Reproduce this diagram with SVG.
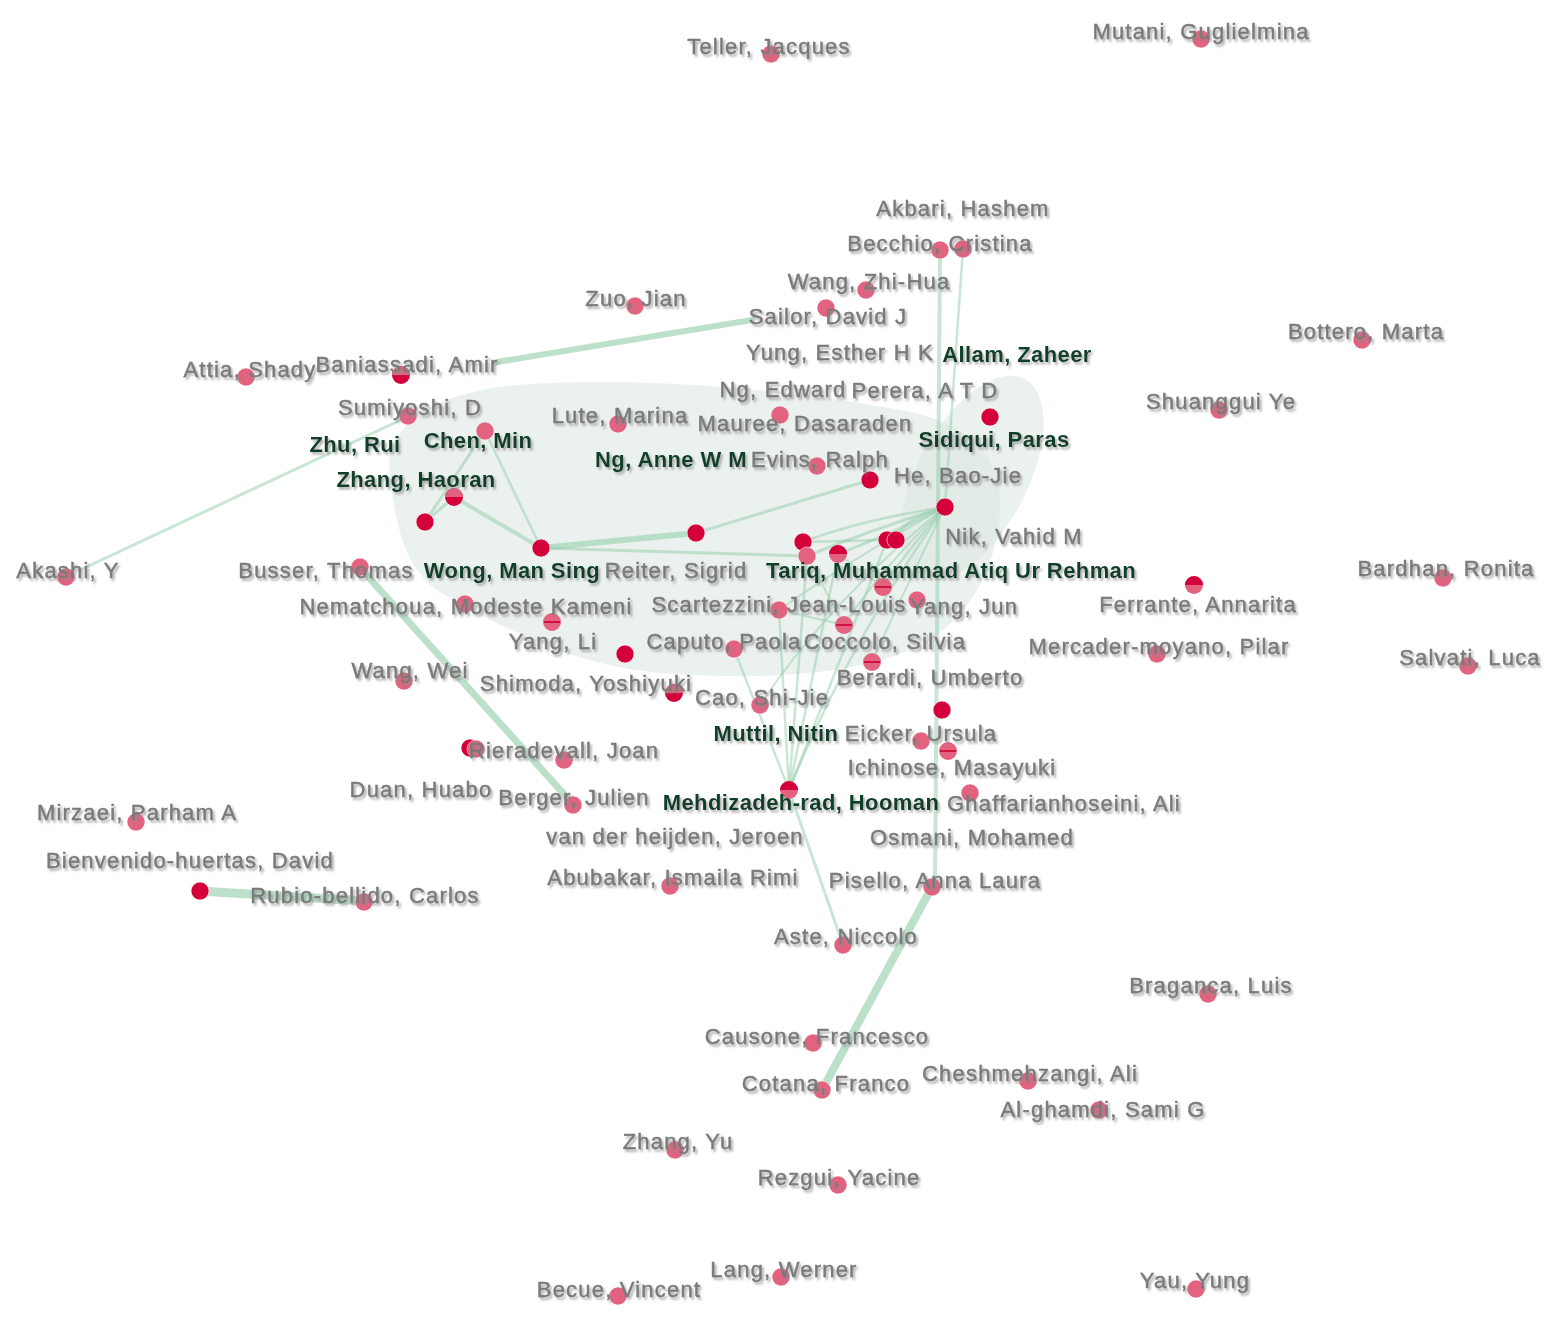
<svg xmlns="http://www.w3.org/2000/svg" xmlns:xlink="http://www.w3.org/1999/xlink" width="1558" height="1326" viewBox="0 0 1558 1326">
<style>
.lb{font-family:"Liberation Sans",Arial,sans-serif;font-size:22px;letter-spacing:1.2px;fill:#7a7a7a;stroke:#7a7a7a;stroke-width:0.45px;text-anchor:middle;filter:url(#sh)}
.lg{fill:#0d3f28;stroke:none;font-weight:bold;letter-spacing:0.4px}
.e{fill:none;stroke:#94cdaa;stroke-opacity:0.5;stroke-linecap:round}
.t{stroke:#b0dbc1;stroke-opacity:0.85}
.hull{fill:#dde8e2;fill-opacity:0.6}
</style>
<defs>
<filter id="sh" x="-10%" y="-30%" width="130%" height="180%">
<feDropShadow dx="2" dy="2.5" stdDeviation="1.2" flood-color="#8a8a8a" flood-opacity="0.7"/>
</filter>
<g id="np"><circle r="9" fill="#e2627f" stroke="#fff" stroke-opacity="0.5" stroke-width="1"/></g>
<g id="nr"><circle r="9" fill="#d4003a" stroke="#fff" stroke-opacity="0.6" stroke-width="1"/></g>
<g id="npr"><circle r="9" fill="#d4003a"/><path d="M-9,0 A9,9 0 0 1 9,0 Z" fill="#e2627f"/></g>
<g id="nrp"><circle r="9" fill="#e2627f"/><path d="M-9,0 A9,9 0 0 1 9,0 Z" fill="#d4003a"/></g>
<g id="npl"><circle r="9" fill="#e2627f"/><line x1="-8" y1="0" x2="8" y2="0" stroke="#c8002f" stroke-width="1.6"/></g>
</defs>
<rect width="1558" height="1326" fill="#ffffff"/>

<g id="hulls">
<path class="hull" d="M390,480 C382,420 440,390 530,384 C640,377 780,388 900,410 C960,420 1000,450 1000,500 C1000,560 975,610 930,640 C860,680 740,680 650,672 C560,662 490,620 440,592 C402,567 396,520 390,480 Z"/>
<ellipse class="hull" cx="972" cy="478" rx="55" ry="112" transform="rotate(28 972 478)"/>
</g>

<g id="connectors">
<line class="e t" x1="497" y1="362" x2="752" y2="320" stroke-width="6"/>
<line class="e" x1="80" y1="570" x2="405" y2="418" stroke-width="3"/>
<line class="e t" x1="362" y1="570" x2="571" y2="802" stroke-width="7"/>
<line class="e t" x1="200" y1="891" x2="364" y2="901" stroke-width="9"/>
<line class="e t" x1="932" y1="887" x2="822" y2="1090" stroke-width="8"/>
<line class="e" x1="789" y1="790" x2="843" y2="945" stroke-width="3"/>
<line class="e" x1="940" y1="250" x2="935" y2="885" stroke-width="4"/>
<line class="e" x1="963" y1="249" x2="945" y2="507" stroke-width="2.5"/>
<line class="e" x1="696" y1="533" x2="870" y2="480" stroke-width="3"/>
<line class="e t" x1="541" y1="548" x2="696" y2="533" stroke-width="6"/>
<line class="e" x1="541" y1="548" x2="807" y2="556" stroke-width="3"/>
<line class="e" x1="541" y1="548" x2="454" y2="497" stroke-width="4"/>
<line class="e" x1="541" y1="548" x2="485" y2="431" stroke-width="2.5"/>
<line class="e" x1="485" y1="431" x2="425" y2="522" stroke-width="3"/>
<line class="e" x1="454" y1="497" x2="425" y2="522" stroke-width="3"/>
<path class="e" d="M945,507 Q900,520 896,540" stroke-width="3"/>
<path class="e" d="M945,507 Q900,530 838,554" stroke-width="3"/>
<path class="e" d="M945,507 Q870,530 807,556" stroke-width="3"/>
<path class="e" d="M945,507 Q860,520 803,542" stroke-width="2.5"/>
<path class="e" d="M945,507 Q900,560 883,587" stroke-width="2.5"/>
<path class="e" d="M945,507 Q850,560 779,610" stroke-width="2"/>
<path class="e" d="M945,507 Q880,570 844,625" stroke-width="2"/>
<path class="e" d="M945,507 Q900,600 872,662" stroke-width="2"/>
<path class="e" d="M945,507 Q850,640 789,790" stroke-width="2.5"/>
<path class="e" d="M945,507 Q830,600 760,705" stroke-width="2"/>
<line class="e" x1="789" y1="790" x2="734" y2="649" stroke-width="2.5"/>
<line class="e" x1="789" y1="790" x2="779" y2="610" stroke-width="2.5"/>
<line class="e" x1="789" y1="790" x2="807" y2="556" stroke-width="2.5"/>
<line class="e" x1="789" y1="790" x2="838" y2="554" stroke-width="2.5"/>
<line class="e" x1="789" y1="790" x2="887" y2="540" stroke-width="2.5"/>
<line class="e" x1="803" y1="542" x2="887" y2="540" stroke-width="2.5"/>
<line class="e" x1="807" y1="556" x2="844" y2="625" stroke-width="2"/>
<line class="e" x1="779" y1="610" x2="844" y2="625" stroke-width="2"/>
<line class="e" x1="838" y1="554" x2="883" y2="587" stroke-width="2"/>
</g>

<g id="nodes">
<g id="n-teller"><use xlink:href="#np" x="771" y="54"/></g>
<g id="n-mutani"><use xlink:href="#np" x="1201" y="39"/></g>
<g id="n-becchio"><use xlink:href="#np" x="940" y="250"/></g>
<g id="n-akbari"><use xlink:href="#np" x="963" y="249"/></g>
<g id="n-wangzh"><use xlink:href="#np" x="866" y="290"/></g>
<g id="n-sailor"><use xlink:href="#np" x="826" y="308"/></g>
<g id="n-zuo"><use xlink:href="#np" x="635" y="306"/></g>
<g id="n-baniassadi"><use xlink:href="#npr" x="401" y="375"/></g>
<g id="n-attia"><use xlink:href="#np" x="246" y="377"/></g>
<g id="n-sumiyoshi"><use xlink:href="#np" x="408" y="416"/></g>
<g id="n-lute"><use xlink:href="#np" x="618" y="424"/></g>
<g id="n-mauree"><use xlink:href="#np" x="780" y="415"/></g>
<g id="n-sidiqui"><use xlink:href="#nr" x="990" y="417"/></g>
<g id="n-chen"><use xlink:href="#np" x="485" y="431"/></g>
<g id="n-zhang"><use xlink:href="#npr" x="454" y="497"/></g>
<g id="n-zhu"><use xlink:href="#nr" x="425" y="522"/></g>
<g id="n-evins"><use xlink:href="#np" x="817" y="466"/></g>
<g id="n-ngedward"><use xlink:href="#nr" x="870" y="480"/></g>
<g id="n-he"><use xlink:href="#nr" x="945" y="507"/></g>
<g id="n-nik1"><use xlink:href="#nr" x="887" y="540"/></g>
<g id="n-nik2"><use xlink:href="#nr" x="896" y="540"/></g>
<g id="n-tariq1"><use xlink:href="#nr" x="803" y="542"/></g>
<g id="n-tariq2"><use xlink:href="#np" x="807" y="556"/></g>
<g id="n-tariq3"><use xlink:href="#nrp" x="838" y="554"/></g>
<g id="n-nganne"><use xlink:href="#nr" x="696" y="533"/></g>
<g id="n-wong"><use xlink:href="#nr" x="541" y="548"/></g>
<g id="n-busser"><use xlink:href="#np" x="360" y="567"/></g>
<g id="n-akashi"><use xlink:href="#np" x="66" y="577"/></g>
<g id="n-nematchoua"><use xlink:href="#np" x="465" y="604"/></g>
<g id="n-scartezzini"><use xlink:href="#np" x="779" y="610"/></g>
<g id="n-yangjun"><use xlink:href="#np" x="917" y="600"/></g>
<g id="n-x1"><use xlink:href="#npl" x="883" y="587"/></g>
<g id="n-yangli"><use xlink:href="#npl" x="552" y="622"/></g>
<g id="n-caputo"><use xlink:href="#np" x="734" y="649"/></g>
<g id="n-coccolo"><use xlink:href="#npl" x="844" y="625"/></g>
<g id="n-reiter"><use xlink:href="#nr" x="625" y="654"/></g>
<g id="n-berardi"><use xlink:href="#npl" x="872" y="662"/></g>
<g id="n-wangwei"><use xlink:href="#np" x="404" y="681"/></g>
<g id="n-shimoda"><use xlink:href="#npr" x="674" y="693"/></g>
<g id="n-cao"><use xlink:href="#np" x="760" y="705"/></g>
<g id="n-muttil"><use xlink:href="#nr" x="942" y="710"/></g>
<g id="n-eicker"><use xlink:href="#np" x="921" y="741"/></g>
<g id="n-ichinose"><use xlink:href="#npl" x="948" y="751"/></g>
<g id="n-rieradevall"><use xlink:href="#np" x="564" y="760"/></g>
<g id="n-duan"><use xlink:href="#nr" x="470" y="748"/><use xlink:href="#np" x="476" y="749"/></g>
<g id="n-berger"><use xlink:href="#np" x="573" y="805"/></g>
<g id="n-mehdizadeh"><use xlink:href="#nrp" x="789" y="790"/></g>
<g id="n-ghaffarianhoseini"><use xlink:href="#np" x="970" y="793"/></g>
<g id="n-abubakar"><use xlink:href="#np" x="670" y="886"/></g>
<g id="n-pisello"><use xlink:href="#np" x="932" y="887"/></g>
<g id="n-aste"><use xlink:href="#np" x="843" y="945"/></g>
<g id="n-mirzaei"><use xlink:href="#np" x="136" y="822"/></g>
<g id="n-bienvenido"><use xlink:href="#nr" x="200" y="891"/></g>
<g id="n-rubio"><use xlink:href="#np" x="364" y="902"/></g>
<g id="n-braganca"><use xlink:href="#np" x="1208" y="994"/></g>
<g id="n-causone"><use xlink:href="#np" x="813" y="1043"/></g>
<g id="n-cotana"><use xlink:href="#np" x="822" y="1090"/></g>
<g id="n-cheshmehzangi"><use xlink:href="#np" x="1028" y="1081"/></g>
<g id="n-alghamdi"><use xlink:href="#np" x="1099" y="1110"/></g>
<g id="n-zhangyu"><use xlink:href="#np" x="675" y="1150"/></g>
<g id="n-rezgui"><use xlink:href="#np" x="838" y="1185"/></g>
<g id="n-lang"><use xlink:href="#np" x="781" y="1277"/></g>
<g id="n-becue"><use xlink:href="#np" x="618" y="1296"/></g>
<g id="n-yau"><use xlink:href="#np" x="1196" y="1289"/></g>
<g id="n-bottero"><use xlink:href="#np" x="1362" y="340"/></g>
<g id="n-shuanggui"><use xlink:href="#np" x="1219" y="410"/></g>
<g id="n-bardhan"><use xlink:href="#np" x="1443" y="578"/></g>
<g id="n-ferrante"><use xlink:href="#nrp" x="1194" y="585"/></g>
<g id="n-mercader"><use xlink:href="#np" x="1157" y="654"/></g>
<g id="n-salvati"><use xlink:href="#np" x="1468" y="666"/></g>
</g>

<g id="labels">
<text class="lb" x="769" y="54">Teller, Jacques</text>
<text class="lb" x="1201" y="39">Mutani, Guglielmina</text>
<text class="lb" x="963" y="216">Akbari, Hashem</text>
<text class="lb" x="940" y="251">Becchio, Cristina</text>
<text class="lb" x="869" y="289">Wang, Zhi-Hua</text>
<text class="lb" x="636" y="306">Zuo, Jian</text>
<text class="lb" x="828" y="324">Sailor, David J</text>
<text class="lb" x="1366" y="339">Bottero, Marta</text>
<text class="lb" x="840" y="360">Yung, Esther H K</text>
<text class="lb lg" x="1017" y="362">Allam, Zaheer</text>
<text class="lb" x="250" y="377">Attia, Shady</text>
<text class="lb" x="407" y="372">Baniassadi, Amir</text>
<text class="lb" x="783" y="397">Ng, Edward</text>
<text class="lb" x="925" y="398">Perera, A T D</text>
<text class="lb" x="1221" y="409">Shuanggui Ye</text>
<text class="lb" x="410" y="415">Sumiyoshi, D</text>
<text class="lb" x="620" y="423">Lute, Marina</text>
<text class="lb" x="805" y="431">Mauree, Dasaraden</text>
<text class="lb lg" x="994" y="447">Sidiqui, Paras</text>
<text class="lb lg" x="355" y="452">Zhu, Rui</text>
<text class="lb lg" x="478" y="448">Chen, Min</text>
<text class="lb lg" x="671" y="467">Ng, Anne W M</text>
<text class="lb" x="820" y="467">Evins, Ralph</text>
<text class="lb" x="958" y="483">He, Bao-Jie</text>
<text class="lb lg" x="416" y="487">Zhang, Haoran</text>
<text class="lb" x="1014" y="544">Nik, Vahid M</text>
<text class="lb" x="68" y="578">Akashi, Y</text>
<text class="lb" x="326" y="578">Busser, Thomas</text>
<text class="lb lg" x="512" y="578">Wong, Man Sing</text>
<text class="lb" x="676" y="578">Reiter, Sigrid</text>
<text class="lb lg" x="951" y="578">Tariq, Muhammad Atiq Ur Rehman</text>
<text class="lb" x="1446" y="576">Bardhan, Ronita</text>
<text class="lb" x="466" y="614">Nematchoua, Modeste Kameni</text>
<text class="lb" x="779" y="612">Scartezzini, Jean-Louis</text>
<text class="lb" x="964" y="614">Yang, Jun</text>
<text class="lb" x="1198" y="612">Ferrante, Annarita</text>
<text class="lb" x="553" y="649">Yang, Li</text>
<text class="lb" x="724" y="649">Caputo, Paola</text>
<text class="lb" x="885" y="649">Coccolo, Silvia</text>
<text class="lb" x="1159" y="654">Mercader-moyano, Pilar</text>
<text class="lb" x="1470" y="665">Salvati, Luca</text>
<text class="lb" x="410" y="678">Wang, Wei</text>
<text class="lb" x="586" y="691">Shimoda, Yoshiyuki</text>
<text class="lb" x="930" y="685">Berardi, Umberto</text>
<text class="lb" x="762" y="705">Cao, Shi-Jie</text>
<text class="lb lg" x="776" y="741">Muttil, Nitin</text>
<text class="lb" x="921" y="741">Eicker, Ursula</text>
<text class="lb" x="564" y="758">Rieradevall, Joan</text>
<text class="lb" x="952" y="775">Ichinose, Masayuki</text>
<text class="lb" x="421" y="797">Duan, Huabo</text>
<text class="lb" x="574" y="805">Berger, Julien</text>
<text class="lb lg" x="801" y="810">Mehdizadeh-rad, Hooman</text>
<text class="lb" x="1064" y="811">Ghaffarianhoseini, Ali</text>
<text class="lb" x="137" y="820">Mirzaei, Parham A</text>
<text class="lb" x="675" y="844">van der heijden, Jeroen</text>
<text class="lb" x="972" y="845">Osmani, Mohamed</text>
<text class="lb" x="190" y="868">Bienvenido-huertas, David</text>
<text class="lb" x="673" y="885">Abubakar, Ismaila Rimi</text>
<text class="lb" x="935" y="888">Pisello, Anna Laura</text>
<text class="lb" x="365" y="903">Rubio-bellido, Carlos</text>
<text class="lb" x="846" y="944">Aste, Niccolo</text>
<text class="lb" x="1211" y="993">Braganca, Luis</text>
<text class="lb" x="817" y="1044">Causone, Francesco</text>
<text class="lb" x="1030" y="1081">Cheshmehzangi, Ali</text>
<text class="lb" x="826" y="1091">Cotana, Franco</text>
<text class="lb" x="1103" y="1117">Al-ghamdi, Sami G</text>
<text class="lb" x="678" y="1149">Zhang, Yu</text>
<text class="lb" x="839" y="1185">Rezgui, Yacine</text>
<text class="lb" x="784" y="1277">Lang, Werner</text>
<text class="lb" x="1195" y="1288">Yau, Yung</text>
<text class="lb" x="619" y="1297">Becue, Vincent</text>
</g>
</svg>
